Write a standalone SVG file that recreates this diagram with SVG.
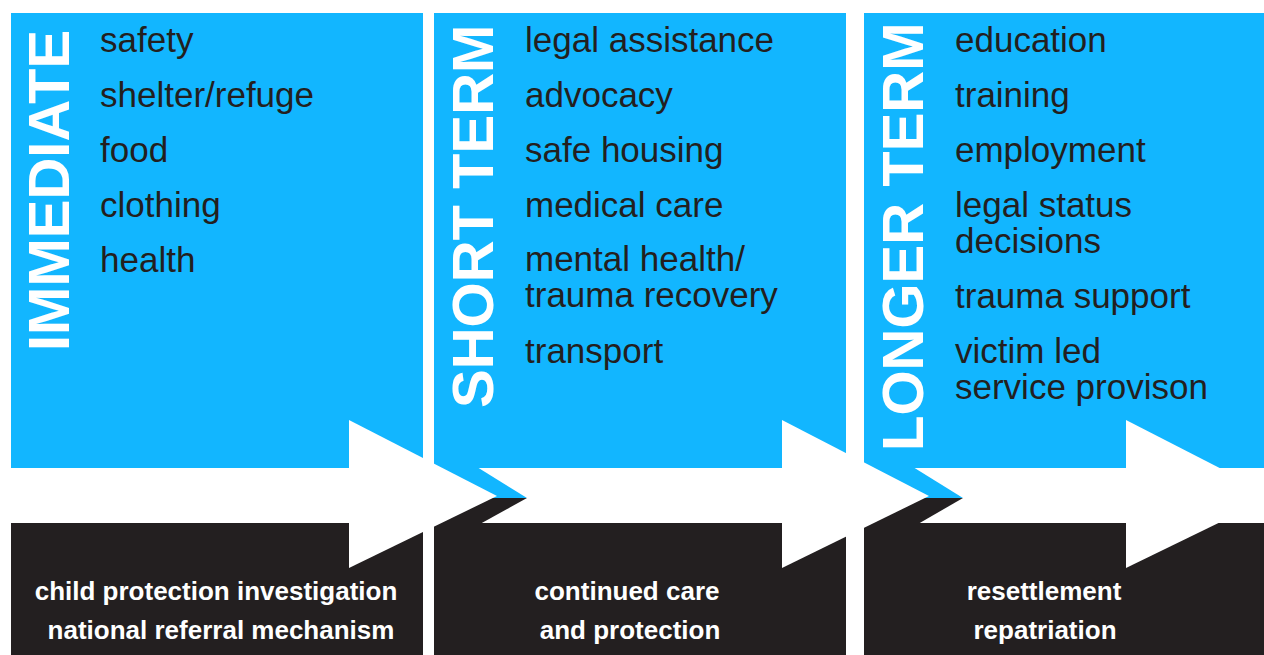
<svg xmlns="http://www.w3.org/2000/svg" width="1264" height="655" viewBox="0 0 1264 655">
<style>
.blue{fill:#12b6ff}
.dark{fill:#231f20}
.white{fill:#ffffff}
.title{font-family:"Liberation Sans",Arial,sans-serif;font-weight:bold;font-size:58px;fill:#ffffff}
.item{font-family:"Liberation Sans",Arial,sans-serif;font-size:35px;fill:#231f20}
.foot{font-family:"Liberation Sans",Arial,sans-serif;font-weight:bold;font-size:26px;fill:#ffffff;text-anchor:middle}
</style>
<rect x="0" y="0" width="1264" height="655" fill="#ffffff"/>
<g id="panel-immediate">
<rect class="blue" x="11" y="13" width="412" height="455"/>
<rect class="dark" x="11" y="523" width="412" height="132"/>
</g>
<g id="panel-short">
<rect class="blue" x="434" y="13" width="412" height="455"/>
<rect class="dark" x="434" y="523" width="412" height="132"/>
<polygon class="blue" points="434,467 477,467 527,498 434,498"/>
<polygon class="dark" points="434,498 527,498 480,524 434,524"/>
</g>
<g id="panel-longer">
<rect class="blue" x="864" y="13" width="400" height="455"/>
<rect class="dark" x="864" y="523" width="400" height="132"/>
<polygon class="blue" points="864,467 913,467 963,498 864,498"/>
<polygon class="dark" points="864,498 963,498 918,524 864,524"/>
</g>
<g id="connectors">
<polygon class="white" points="349,420 497,496 349,568"/>
<polygon class="white" points="782,420 929,496 782,568"/>
<polygon class="white" points="1126,420 1274,496 1126,568"/>
</g>
<g id="text-immediate">
<text class="title" transform="translate(69,351) rotate(-90)">IMMEDIATE</text>
<text class="item" x="100" y="52">safety</text>
<text class="item" x="100" y="107">shelter/refuge</text>
<text class="item" x="100" y="162">food</text>
<text class="item" x="100" y="217">clothing</text>
<text class="item" x="100" y="272">health</text>
<text class="foot" x="216" y="600">child protection investigation</text>
<text class="foot" x="221" y="639">national referral mechanism</text>
</g>
<g id="text-short">
<text class="title" transform="translate(493,408) rotate(-90)">SHORT TERM</text>
<text class="item" x="525" y="52">legal assistance</text>
<text class="item" x="525" y="107">advocacy</text>
<text class="item" x="525" y="162">safe housing</text>
<text class="item" x="525" y="217">medical care</text>
<text class="item" x="525" y="271">mental health/</text>
<text class="item" x="525" y="307">trauma recovery</text>
<text class="item" x="525" y="363">transport</text>
<text class="foot" x="627" y="600">continued care</text>
<text class="foot" x="630" y="639">and protection</text>
</g>
<g id="text-longer">
<text class="title" transform="translate(923,451) rotate(-90)">LONGER TERM</text>
<text class="item" x="955" y="52">education</text>
<text class="item" x="955" y="107">training</text>
<text class="item" x="955" y="162">employment</text>
<text class="item" x="955" y="217">legal status</text>
<text class="item" x="955" y="253">decisions</text>
<text class="item" x="955" y="308">trauma support</text>
<text class="item" x="955" y="363">victim led</text>
<text class="item" x="955" y="399">service provison</text>
<text class="foot" x="1044" y="600">resettlement</text>
<text class="foot" x="1045" y="639">repatriation</text>
</g>
</svg>
